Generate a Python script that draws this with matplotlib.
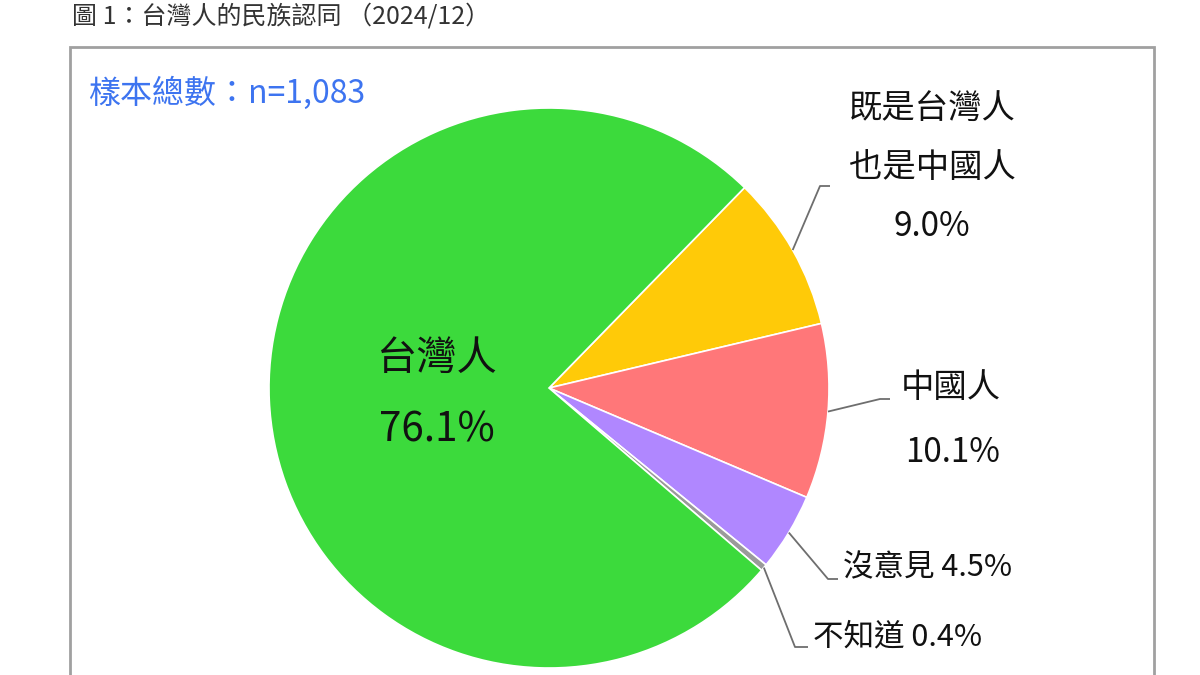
import numpy as np
import matplotlib
matplotlib.use("Agg")
import matplotlib.pyplot as plt
from matplotlib.patches import Rectangle

plt.rcParams['font.family'] = ['Noto Sans CJK TC', 'DejaVu Sans']

# data (clockwise from the top-right boundary)
labels = ['既是台灣人\n也是中國人', '中國人', '沒意見', '不知道', '台灣人']
values = [9.0, 10.1, 4.5, 0.4, 76.1]
colors = ['#FFCA08', '#FF7779', '#B087FF', '#9A9A9A', '#3CDA3C']
title = '圖 1：台灣人的民族認同 （2024/12）'
sample_note = '樣本總數：n=1,083'

W, H = 1200, 675
fig = plt.figure(figsize=(12, 6.75), dpi=100)
ax = fig.add_axes([0, 0, 1, 1])

def py(y):
    # pixel row (top-down) -> data y
    return H - y

# frame around the chart
ax.add_patch(Rectangle((70, py(700)), 1084, 653, fill=False,
                       edgecolor='#A0A0A0', linewidth=2))

cx, cy, r = 549, py(388), 280
start = 45.7
wedges, _ = ax.pie(values, colors=colors, startangle=start, counterclock=False,
                   center=(cx, cy), radius=r, frame=True,
                   wedgeprops=dict(edgecolor='white', linewidth=1.2))
ax.set_xlim(0, W)
ax.set_ylim(0, H)
ax.set_aspect('equal')
ax.axis('off')

# mid angles of each wedge
total = sum(values)
bounds = start - np.cumsum([0] + values) / total * 360
mids = (bounds[:-1] + bounds[1:]) / 2

# leader lines: elbow point, end point (pixel coords)
leaders = {0: ((820, 186), (830, 186)),
           1: ((880, 399), (890, 399)),
           2: ((828, 579), (838, 579)),
           3: ((795, 647), (808, 647))}
for i, (elbow, end) in leaders.items():
    a = np.deg2rad(mids[i])
    x0, y0 = cx + r * np.cos(a), cy + r * np.sin(a)
    ax.plot([x0, elbow[0], end[0]], [y0, py(elbow[1]), py(end[1])],
            color='#6E6E6E', linewidth=1.3, solid_capstyle='butt', zorder=3)

tc = '#111111'
# yellow
name_lines = labels[0].split('\n')
ax.text(932, py(108), name_lines[0], ha='center', va='center', fontsize=24, color=tc)
ax.text(932, py(168), name_lines[1], ha='center', va='center', fontsize=24, color=tc)
ax.text(932, py(227), f'{values[0]:.1f}%', ha='center', va='center', fontsize=24, color=tc)
# red
ax.text(951, py(388), labels[1], ha='center', va='center', fontsize=24, color=tc)
ax.text(953, py(452), f'{values[1]:.1f}%', ha='center', va='center', fontsize=24, color=tc)
# purple, gray
ax.text(843, py(568), f'{labels[2]} {values[2]:.1f}%', ha='left', va='center', fontsize=22, color=tc)
ax.text(813, py(637), f'{labels[3]} {values[3]:.1f}%', ha='left', va='center', fontsize=22, color=tc)
# green
ax.text(437, py(358), labels[4], ha='center', va='center', fontsize=29, color=tc)
ax.text(437, py(430), f'{values[4]:.1f}%', ha='center', va='center', fontsize=29, color=tc)

ax.text(88, py(93), sample_note, ha='left', va='center', fontsize=23, color='#3D74F0')
ax.text(72, py(16), title, ha='left', va='center', fontsize=18, color='#333333')

fig.savefig('out.png', dpi=100)
